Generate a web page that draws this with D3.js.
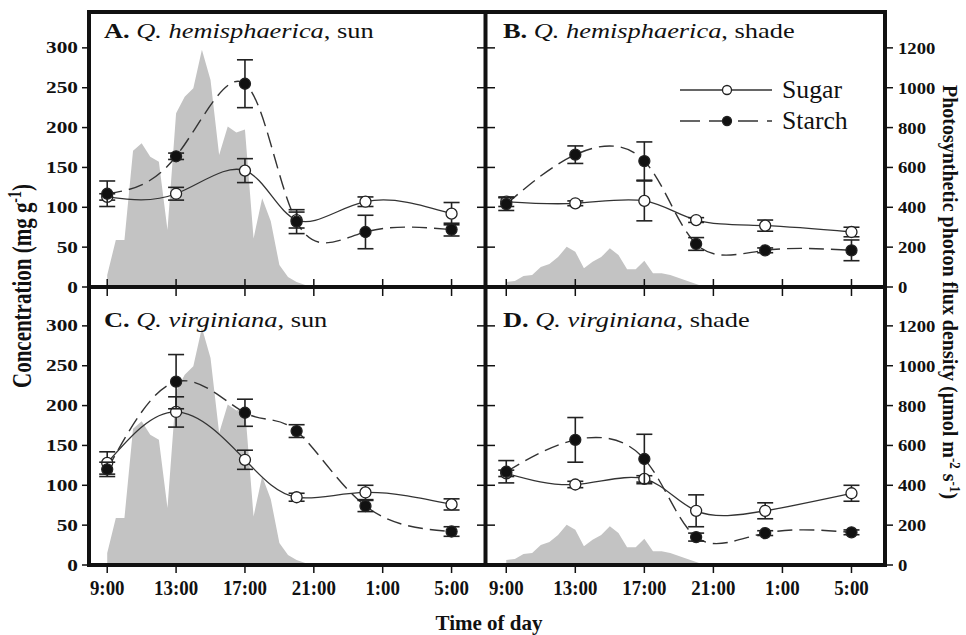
<!DOCTYPE html>
<html>
<head>
<meta charset="utf-8">
<script src="https://cdn.jsdelivr.net/npm/d3@7"></script>
<style>
  body { margin: 0; background: #fff; }
  svg { display: block; font-family: "Liberation Serif", "Times New Roman", serif; }
</style>
</head>
<body>
<svg id="chart" width="966" height="635"></svg>
<script>
// sampling times (hours since midnight, next day > 24)
const times = [9, 13, 17, 20, 24, 29];

// A. Q. hemisphaerica, sun
const sugarA = [113, 117, 146, 84, 107, 92];
const sugarAse = [4, 8, 15, 10, 6, 14];
const starchA = [117, 164, 255, 82, 69, 72];
const starchAse = [16, 4, 30, 15, 21, 8];
// B. Q. hemisphaerica, shade
const sugarB = [107, 105, 108, 84, 77, 69];
const sugarBse = [6, 3, 25, 3, 7, 6];
const starchB = [104, 166, 158, 54, 46, 46];
const starchBse = [8, 11, 24, 8, 3, 13];
// C. Q. virginiana, sun
const sugarC = [128, 192, 132, 85, 91, 76];
const sugarCse = [14, 19, 12, 5, 9, 7];
const starchC = [120, 230, 191, 168, 74, 42];
const starchCse = [9, 34, 17, 8, 7, 6];
// D. Q. virginiana, shade
const sugarD = [115, 101, 108, 68, 68, 90];
const sugarDse = [4, 4, 4, 20, 10, 10];
const starchD = [117, 157, 133, 35, 40, 41];
const starchDse = [14, 28, 31, 5, 3, 3];

// photosynthetic photon flux density (grey area)
const sunHours = [9, 9.5, 10, 10.5, 11, 11.5, 12, 12.5, 13, 13.5, 14, 14.5, 15, 15.5, 16, 16.5, 17, 17.5, 18, 18.5, 19, 19.5, 20, 20.5, 21];
const sunPPFD = [60, 236, 236, 684, 721, 654, 629, 286, 872, 955, 997, 1190, 1039, 662, 805, 775, 790, 244, 445, 330, 110, 50, 25, 10, 0];
const shadeHours = [9, 9.5, 10, 10.5, 11, 11.5, 12, 12.5, 13, 13.5, 14, 14.5, 15, 15.5, 16, 16.5, 17, 17.5, 18, 18.5, 19, 19.5, 20, 20.5];
const shadePPFD = [25, 30, 55, 60, 100, 115, 150, 202, 177, 94, 127, 150, 194, 161, 89, 89, 132, 69, 69, 60, 45, 30, 15, 0];

const xTicks = [9, 13, 17, 21, 25, 29];
const xTickLabels = ["9:00", "13:00", "17:00", "21:00", "1:00", "5:00"];
const concTicks = [0, 50, 100, 150, 200, 250, 300];
const ppfdTicks = [0, 200, 400, 600, 800, 1000, 1200];

const panels = [
  {letter: "A.", species: "Q. hemisphaerica", light: ", sun", sugar: sugarA, sugarSe: sugarAse, starch: starchA, starchSe: starchAse, hours: sunHours, ppfd: sunPPFD, left: 90, right: 486, bottom: 287, titleY: 38, col: 0, row: 0},
  {letter: "B.", species: "Q. hemisphaerica", light: ", shade", sugar: sugarB, sugarSe: sugarBse, starch: starchB, starchSe: starchBse, hours: shadeHours, ppfd: shadePPFD, left: 489, right: 886, bottom: 287, titleY: 38, col: 1, row: 0},
  {letter: "C.", species: "Q. virginiana", light: ", sun", sugar: sugarC, sugarSe: sugarCse, starch: starchC, starchSe: starchCse, hours: sunHours, ppfd: sunPPFD, left: 90, right: 486, bottom: 565, titleY: 327, col: 0, row: 1},
  {letter: "D.", species: "Q. virginiana", light: ", shade", sugar: sugarD, sugarSe: sugarDse, starch: starchD, starchSe: starchDse, hours: shadeHours, ppfd: shadePPFD, left: 489, right: 886, bottom: 565, titleY: 327, col: 1, row: 1}
];

const svg = d3.select("#chart");

// text with a horizontal stretch, like the scanned figure
function stext(g, x, y, str, size, sx, anchor, weight) {
  return g.append("g")
    .attr("transform", `translate(${x},${y}) scale(${sx},1)`)
    .append("text")
    .attr("text-anchor", anchor)
    .attr("font-size", size)
    .attr("font-weight", weight || "bold")
    .attr("fill", "#111")
    .text(str);
}

panels.forEach(p => {
  const g = svg.append("g");
  const x = d3.scaleLinear().domain([8, 31]).range([p.left, p.right]);
  const y = d3.scaleLinear().domain([0, 345]).range([p.bottom, p.bottom - 275]);
  const yp = d3.scaleLinear().domain([0, 1380]).range([p.bottom, p.bottom - 275]);

  // light
  g.append("path")
    .datum(d3.zip(p.hours, p.ppfd))
    .attr("d", d3.area().x(d => x(d[0])).y0(yp(0)).y1(d => yp(d[1])))
    .attr("fill", "#c3c3c3");

  const line = d3.line().curve(d3.curveNatural)
    .x((d, i) => x(times[i])).y(d => y(d));

  g.append("path").datum(p.sugar).attr("d", line)
    .attr("fill", "none").attr("stroke", "#333").attr("stroke-width", 1.3);
  g.append("path").datum(p.starch).attr("d", line)
    .attr("fill", "none").attr("stroke", "#333").attr("stroke-width", 1.4)
    .attr("stroke-dasharray", "15,7");

  [[p.sugar, p.sugarSe, "#fff"], [p.starch, p.starchSe, "#111"]].forEach(([vals, se, fill]) => {
    const eb = g.append("g").attr("stroke", "#222").attr("stroke-width", 1.6);
    vals.forEach((v, i) => {
      const cx = x(times[i]);
      eb.append("line").attr("x1", cx).attr("x2", cx).attr("y1", y(v - se[i])).attr("y2", y(v + se[i]));
      [v - se[i], v + se[i]].forEach(e => {
        eb.append("line").attr("x1", cx - 8).attr("x2", cx + 8).attr("y1", y(e)).attr("y2", y(e));
      });
    });
    g.selectAll(null).data(vals).enter().append("circle")
      .attr("cx", (d, i) => x(times[i]))
      .attr("cy", d => y(d))
      .attr("r", 5.5)
      .attr("fill", fill)
      .attr("stroke", "#222")
      .attr("stroke-width", 1.3);
  });

  // panel title
  const t = g.append("g")
    .attr("transform", `translate(${p.left + 14},${p.titleY}) scale(1.2,1)`)
    .append("text").attr("font-size", 22).attr("fill", "#111");
  t.append("tspan").attr("font-weight", "bold").text(p.letter + " ");
  t.append("tspan").attr("font-style", "italic").text(p.species);
  t.append("tspan").text(p.light);

  // ticks
  const tk = g.append("g").attr("stroke", "#111").attr("stroke-width", 1.5);
  xTicks.forEach(h => {
    if (p.row === 0) {
      tk.append("line").attr("x1", x(h)).attr("x2", x(h)).attr("y1", p.bottom - 8).attr("y2", p.bottom + 9);
    } else {
      tk.append("line").attr("x1", x(h)).attr("x2", x(h)).attr("y1", p.bottom).attr("y2", p.bottom + 8);
      stext(g, x(h), 595, xTickLabels[xTicks.indexOf(h)], 21, 0.9, "middle");
    }
  });
  if (p.col === 0) {
    concTicks.forEach(v => {
      tk.append("line").attr("x1", 82).attr("x2", 89).attr("y1", y(v)).attr("y2", y(v));
      tk.append("line").attr("x1", 477).attr("x2", 495).attr("y1", y(v)).attr("y2", y(v));
      stext(g, 78, y(v) + 5.5, v, 16, 1.33, "end");
    });
  } else {
    ppfdTicks.forEach(v => {
      tk.append("line").attr("x1", 885).attr("x2", 893).attr("y1", yp(v)).attr("y2", yp(v));
      stext(g, 898, yp(v) + 6, v, 17, 1.1, "start");
    });
  }
});

// frame and dividers
svg.append("rect").attr("x", 89).attr("y", 12).attr("width", 796).attr("height", 553)
  .attr("fill", "none").attr("stroke", "#111").attr("stroke-width", 4);
svg.append("line").attr("x1", 485.5).attr("x2", 485.5).attr("y1", 12).attr("y2", 565)
  .attr("stroke", "#111").attr("stroke-width", 4);
svg.append("line").attr("x1", 89).attr("x2", 885).attr("y1", 287).attr("y2", 287)
  .attr("stroke", "#111").attr("stroke-width", 4);

// legend (panel B)
const lg = svg.append("g");
lg.append("line").attr("x1", 680).attr("x2", 772).attr("y1", 90).attr("y2", 90)
  .attr("stroke", "#333").attr("stroke-width", 1.4);
lg.append("circle").attr("cx", 727).attr("cy", 90).attr("r", 4.5)
  .attr("fill", "#fff").attr("stroke", "#222").attr("stroke-width", 1.3);
lg.append("line").attr("x1", 680).attr("x2", 772).attr("y1", 121).attr("y2", 121)
  .attr("stroke", "#333").attr("stroke-width", 1.4).attr("stroke-dasharray", "20,9");
lg.append("circle").attr("cx", 727).attr("cy", 121).attr("r", 4.5)
  .attr("fill", "#111").attr("stroke", "#222").attr("stroke-width", 1.3);
stext(lg, 782, 98, "Sugar", 25, 1.03, "start", "normal");
stext(lg, 782, 129, "Starch", 25, 1.03, "start", "normal");

// axis titles
const yl = svg.append("text")
  .attr("transform", "translate(31,286) rotate(-90) scale(1,1.3)")
  .attr("text-anchor", "middle").attr("font-size", 21).attr("font-weight", "bold").attr("fill", "#111");
yl.append("tspan").text("Concentration (mg g");
yl.append("tspan").attr("font-size", 14).attr("dy", -8).text("-1");
yl.append("tspan").attr("dy", 8).text(")");

const yr = svg.append("text")
  .attr("transform", "translate(943,292) rotate(90) scale(1,1.05)")
  .attr("text-anchor", "middle").attr("font-size", 20).attr("font-weight", "bold").attr("fill", "#111");
yr.append("tspan").text("Photosynthetic photon flux density (µmol m");
yr.append("tspan").attr("font-size", 13).attr("dy", -7).text("-2");
yr.append("tspan").attr("dy", 7).text(" s");
yr.append("tspan").attr("font-size", 13).attr("dy", -7).text("-1");
yr.append("tspan").attr("dy", 7).text(")");

svg.append("text").attr("x", 489).attr("y", 630)
  .attr("text-anchor", "middle").attr("font-size", 21).attr("font-weight", "bold").attr("fill", "#111")
  .text("Time of day");
</script>
</body>
</html>
